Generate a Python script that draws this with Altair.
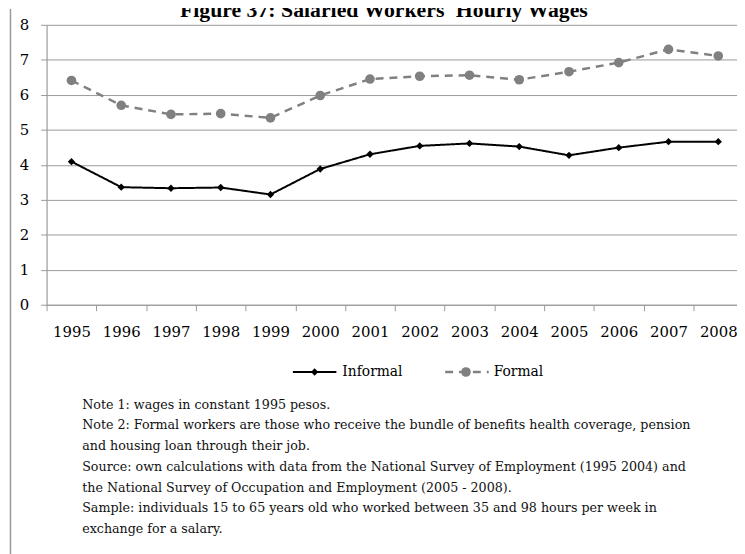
import altair as alt
import pandas as pd

years = list(range(1995, 2009))
informal = [4.09, 3.36, 3.33, 3.35, 3.15, 3.88, 4.30, 4.54, 4.61, 4.52, 4.27, 4.49, 4.66, 4.66]
formal = [6.41, 5.70, 5.44, 5.46, 5.34, 5.98, 6.45, 6.53, 6.56, 6.43, 6.66, 6.92, 7.30, 7.11]
series_names = ["Informal", "Formal"]
y_ticks = [0, 1, 2, 3, 4, 5, 6, 7, 8]
title_text = "Figure 37: Salaried Workers' Hourly Wages"
notes = [
    "Note 1: wages in constant 1995 pesos.",
    "Note 2: Formal workers are those who receive the bundle of benefits health coverage, pension",
    "and housing loan through  their job.",
    "Source: own calculations with data from the National Survey of Employment (1995   2004) and",
    "the National Survey of Occupation and Employment (2005 - 2008).",
    "Sample: individuals 15 to 65 years old who worked between 35 and 98 hours per week in",
    "exchange for a salary.",
]

df = pd.DataFrame({
    "year": years * 2,
    "value": informal + formal,
    "series": [series_names[0]] * len(years) + [series_names[1]] * len(years),
})

W = 698
H = 283
band = 50.3
x_min = years[0] - 0.5
x_max = x_min + W / band

BLACK = "#000000"
GRAY = "#808080"
GRID = "#9a9a9a"
SERIF = "DejaVu Serif"

boundaries = [y - 0.5 for y in years]
axis_vals = sorted(boundaries + years)

x_enc = alt.X(
    "year:Q",
    scale=alt.Scale(domain=[x_min, x_max], nice=False, zero=False),
    axis=alt.Axis(
        values=axis_vals,
        labelExpr="datum.value % 1 === 0 ? format(datum.value, 'd') : ''",
        labelOverlap=False,
        labelFlush=False,
        labelBound=False,
        tickOpacity={"condition": {"test": "datum.value % 1 === 0", "value": 0}, "value": 1},
        tickSize=6,
        tickColor=GRID,
        domainColor=GRID,
        domainWidth=1.2,
        grid=False,
        labelFont=SERIF,
        labelFontSize=15,
        labelColor=BLACK,
        labelPadding=14,
        title=None,
    ),
)
y_enc = alt.Y(
    "value:Q",
    scale=alt.Scale(domain=[0, 8], nice=False),
    axis=alt.Axis(
        values=y_ticks,
        format="d",
        labelOverlap=False,
        tickSize=6,
        tickColor=GRID,
        domainColor=GRID,
        domainWidth=1.2,
        grid=True,
        gridColor=GRID,
        gridWidth=1,
        labelFont=SERIF,
        labelFontSize=15,
        labelColor=BLACK,
        labelPadding=12,
        title=None,
    ),
)

color_scale = alt.Scale(domain=series_names, range=[BLACK, GRAY])

base = alt.Chart(df).encode(x=x_enc, y=y_enc)

lines = base.mark_line(strokeJoin="round").encode(
    color=alt.Color("series:N", scale=color_scale, legend=None),
    strokeDash=alt.StrokeDash("series:N", scale=alt.Scale(domain=series_names, range=[[1, 0], [8, 6]]), legend=None),
    strokeWidth=alt.StrokeWidth("series:N", scale=alt.Scale(domain=series_names, range=[2, 2.5]), legend=None),
)

pts = base.mark_point(filled=True, opacity=1).encode(
    color=alt.Color("series:N", scale=color_scale, legend=None),
    shape=alt.Shape("series:N", scale=alt.Scale(domain=series_names, range=["diamond", "circle"]), legend=None),
    size=alt.Size("series:N", scale=alt.Scale(domain=series_names, range=[55, 95]), legend=None),
)

one = pd.DataFrame({"k": [0]})

title = alt.Chart(one).mark_text(
    text=title_text, font="Liberation Serif", fontSize=22, fontWeight="bold",
    align="center", baseline="alphabetic", color=BLACK,
).encode(x=alt.value(341), y=alt.value(-8))

frame = alt.Chart(one).mark_rule(color=GRID, strokeWidth=1.5).encode(
    x=alt.value(-36.5), y=alt.value(-16), y2=alt.value(540)
)

LEG_Y = 351
leg_inf_line = alt.Chart(one).mark_rule(color=BLACK, strokeWidth=2).encode(
    x=alt.value(249), x2=alt.value(293), y=alt.value(LEG_Y)
)
leg_inf_pt = alt.Chart(one).mark_point(shape="diamond", filled=True, color=BLACK, size=55, opacity=1).encode(
    x=alt.value(271), y=alt.value(LEG_Y)
)
leg_inf_txt = alt.Chart(one).mark_text(
    text=series_names[0], font=SERIF, fontSize=14, align="left", baseline="middle", color=BLACK
).encode(x=alt.value(299), y=alt.value(LEG_Y))

leg_for_line = alt.Chart(one).mark_rule(color=GRAY, strokeWidth=2.5, strokeDash=[8, 6]).encode(
    x=alt.value(403), x2=alt.value(447), y=alt.value(LEG_Y)
)
leg_for_pt = alt.Chart(one).mark_point(shape="circle", filled=True, color=GRAY, size=95, opacity=1).encode(
    x=alt.value(424), y=alt.value(LEG_Y)
)
leg_for_txt = alt.Chart(one).mark_text(
    text=series_names[1], font=SERIF, fontSize=14, align="left", baseline="middle", color=BLACK
).encode(x=alt.value(452), y=alt.value(LEG_Y))

notes_txt = alt.Chart(one).mark_text(
    font=SERIF, fontSize=12.8, align="left", baseline="top", lineHeight=21, color="#111111"
).encode(x=alt.value(36), y=alt.value(378), text=alt.value(notes))

chart = alt.layer(
    lines, pts, title, frame,
    leg_inf_line, leg_inf_pt, leg_inf_txt,
    leg_for_line, leg_for_pt, leg_for_txt,
    notes_txt,
).properties(
    width=W,
    height=H,
    padding={"left": 39, "top": 14, "right": 0, "bottom": 249},
    autosize=alt.AutoSizeParams(type="none"),
    background="white",
).configure_view(stroke=None)

chart.save("out.html", embed_options={"renderer": "svg", "actions": False})
